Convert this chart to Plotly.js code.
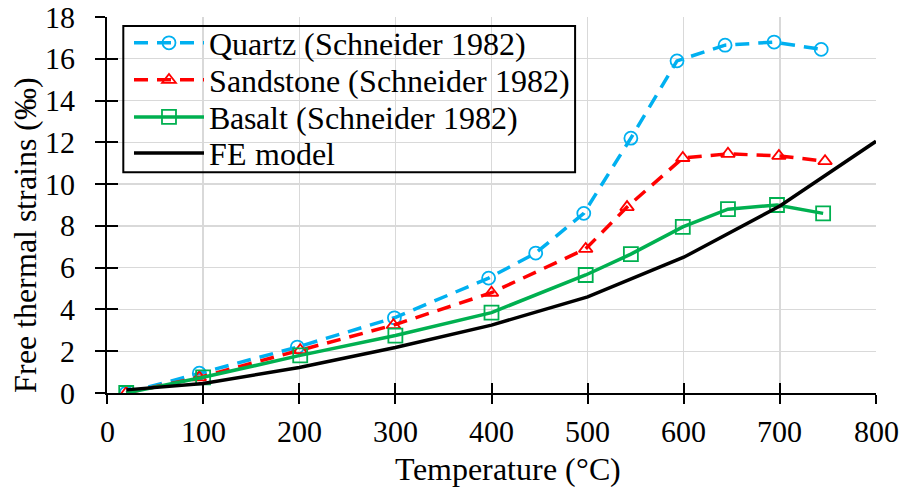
<!DOCTYPE html>
<html>
<head>
<meta charset="utf-8">
<script src="https://cdn.plot.ly/plotly-3.0.1.min.js"></script>
<style>html,body{margin:0;padding:0;background:#fff;}#chart{width:901px;height:488px;}</style>
</head>
<body>
<div id="chart"></div>
<script>
// Data
const quartzT = [20, 96, 198, 299, 397, 446, 496, 545, 593, 643, 694, 743];
const quartzV = [0, 0.95, 2.2, 3.6, 5.5, 6.7, 8.6, 12.2, 15.9, 16.65, 16.8, 16.45];
const sandT = [20, 96, 201, 298, 400, 498, 541, 599, 646, 699, 747];
const sandV = [0, 0.75, 2.05, 3.25, 4.8, 6.9, 8.9, 11.25, 11.45, 11.35, 11.1];
const basaltT = [20, 100, 201, 300, 400, 498, 545, 599, 646, 697, 745];
const basaltV = [0, 0.75, 1.8, 2.75, 3.85, 5.65, 6.65, 7.95, 8.8, 9.0, 8.6];
const feT = [20, 100, 200, 300, 400, 500, 600, 700, 800];
const feV = [0.15, 0.45, 1.22, 2.18, 3.25, 4.6, 6.5, 8.95, 12.05];
const seriesNames = ['Quartz (Schneider 1982)', 'Sandstone (Schneider 1982)', 'Basalt (Schneider 1982)', 'FE model'];
const xTicks = [0, 100, 200, 300, 400, 500, 600, 700, 800];
const yTicks = [0, 2, 4, 6, 8, 10, 12, 14, 16, 18];
const xTitle = 'Temperature (°C)';
const yTitle = 'Free thermal strains (‰)';

function build(FONT) {
  const traces = [
    {x: quartzT, y: quartzV, name: seriesNames[0], mode: 'lines+markers', legend: 'legend',
     line: {color: '#00B0F0', width: 3.5, dash: '14px,9px'},
     marker: {symbol: 'circle-open', size: 13, color: '#00B0F0', line: {width: 1.8}}},
    {x: sandT, y: sandV, name: seriesNames[1], mode: 'lines+markers', legend: 'legend2',
     line: {color: '#FF0000', width: 3.5, dash: '14px,9px'},
     marker: {symbol: 'triangle-up-open', size: 12, color: '#FF0000', line: {width: 1.8}}},
    {x: basaltT, y: basaltV, name: seriesNames[2], mode: 'lines+markers', legend: 'legend3',
     line: {color: '#00B050', width: 3.5},
     marker: {symbol: 'square-open', size: 14, color: '#00B050', line: {width: 1.8}}},
    {x: feT, y: feV, name: seriesNames[3], mode: 'lines', legend: 'legend4',
     line: {color: '#000000', width: 3.5}},
    // invisible companion trace so the overlay axes (inner half of the crossing ticks) are drawn
    {x: feT, y: feV, xaxis: 'x2', yaxis: 'y2', showlegend: false, hoverinfo: 'skip', mode: 'lines',
     opacity: 0, line: {width: 0.1}}
  ];
  function leg(yc) {
    return {x: 0.0286, y: yc, xanchor: 'left', yanchor: 'middle', bgcolor: 'rgba(0,0,0,0)',
      borderwidth: 0, font: {family: FONT, size: 32, color: '#000'}, itemwidth: 70};
  }
  const layout = {
    width: 901, height: 488,
    showlegend: true,
    margin: {l: 107, r: 25, t: 17, b: 95, pad: 0},
    paper_bgcolor: '#fff', plot_bgcolor: '#fff',
    font: {family: FONT, size: 30, color: '#000'},
    xaxis: {range: [0, 800], tickvals: xTicks, ticks: 'outside', ticklen: 9, tickwidth: 2, tickcolor: '#000',
      showline: true, linecolor: '#000', linewidth: 2, showgrid: true, gridcolor: '#d9d9d9', gridwidth: 1.3,
      zeroline: false, tickfont: {family: FONT, size: 30, color: '#000'}, ticklabelstandoff: 2},
    yaxis: {range: [0, 18], tickvals: yTicks, ticks: 'outside', ticklen: 10, tickwidth: 2, tickcolor: '#000',
      showline: true, linecolor: '#000', linewidth: 2, showgrid: true, gridcolor: '#d9d9d9', gridwidth: 1.3,
      zeroline: false, tickfont: {family: FONT, size: 30, color: '#000'}, ticklabelstandoff: 14},
    xaxis2: {range: [0, 800], tickvals: xTicks, overlaying: 'x', anchor: 'y2', side: 'bottom', ticks: 'inside',
      ticklen: 10, tickwidth: 2, tickcolor: '#000', showticklabels: false, showgrid: false, zeroline: false, showline: false},
    yaxis2: {range: [0, 18], tickvals: yTicks, overlaying: 'y', anchor: 'x2', side: 'left', ticks: 'inside',
      ticklen: 11, tickwidth: 2, tickcolor: '#000', showticklabels: false, showgrid: false, zeroline: false, showline: false},
    legend: leg(0.9308), legend2: leg(0.8323), legend3: leg(0.7338), legend4: leg(0.638),
    annotations: [
      {text: xTitle, xref: 'paper', yref: 'paper', x: 0.5216, y: -0.203, xanchor: 'center', yanchor: 'middle',
       showarrow: false, font: {family: FONT, size: 32, color: '#000'}},
      {text: yTitle, xref: 'paper', yref: 'paper', x: -0.1068, y: 0.42, xanchor: 'center', yanchor: 'middle',
       textangle: -90, showarrow: false, font: {family: FONT, size: 32, color: '#000'}}
    ],
    shapes: [{type: 'rect', xref: 'paper', yref: 'paper', x0: 0.0212, x1: 0.6087, y0: 0.5874, y1: 0.976,
      line: {color: '#000', width: 2}, fillcolor: 'rgba(0,0,0,0)', layer: 'above'}]
  };
  return Plotly.newPlot('chart', traces, layout, {displayModeBar: false, staticPlot: true});
}

// Load the installed serif font explicitly before drawing, so the SVG text never falls back to sans.
let done = false;
function draw(fam) {
  if (done) return;
  done = true;
  build(fam);
}
try {
  const ff = new FontFace('ChartSerif', "local('Liberation Serif'), local('LiberationSerif'), local('LiberationSerif-Regular'), local('Times New Roman')");
  ff.load().then(f => { document.fonts.add(f); draw('ChartSerif'); })
    .catch(() => draw('Liberation Serif'));
  setTimeout(() => draw('Liberation Serif'), 1500);
} catch (e) {
  draw('Liberation Serif');
}
</script>
</body>
</html>
